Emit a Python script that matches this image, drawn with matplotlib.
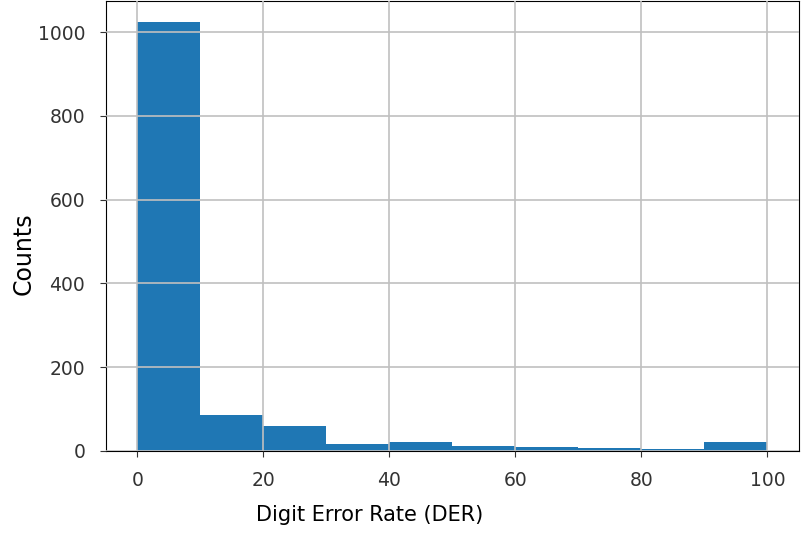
import numpy as np
import matplotlib
matplotlib.use("Agg")
import matplotlib.pyplot as plt

# histogram bins of DER (%) and counts
bin_edges = [0, 10, 20, 30, 40, 50, 60, 70, 80, 90, 100]
counts = [1024, 85, 60, 16, 21, 11, 10, 6, 5, 21]

fig = plt.figure(figsize=(8.07, 5.45), dpi=100)
ax = fig.add_axes([0.1313, 0.1725, 0.8587, 0.8265])

ax.hist(bin_edges[:-1], bins=bin_edges, weights=counts, color="#1f77b4")
ax.set_axisbelow(False)
ax.grid(True, color="#c0c0c0", linewidth=1.2)

ax.set_xlabel("Digit Error Rate (DER)", fontsize=15)
ax.set_ylabel("Counts", fontsize=17)
ax.xaxis.set_label_coords(0.38, -0.12)
ax.yaxis.set_label_coords(-0.102, 0.437)
ax.tick_params(labelsize=13.5, colors="#333333", length=4.5)
ax.tick_params(axis="y", pad=10.5)
ax.tick_params(axis="x", pad=10)

fig.savefig("out.png", dpi=100)
